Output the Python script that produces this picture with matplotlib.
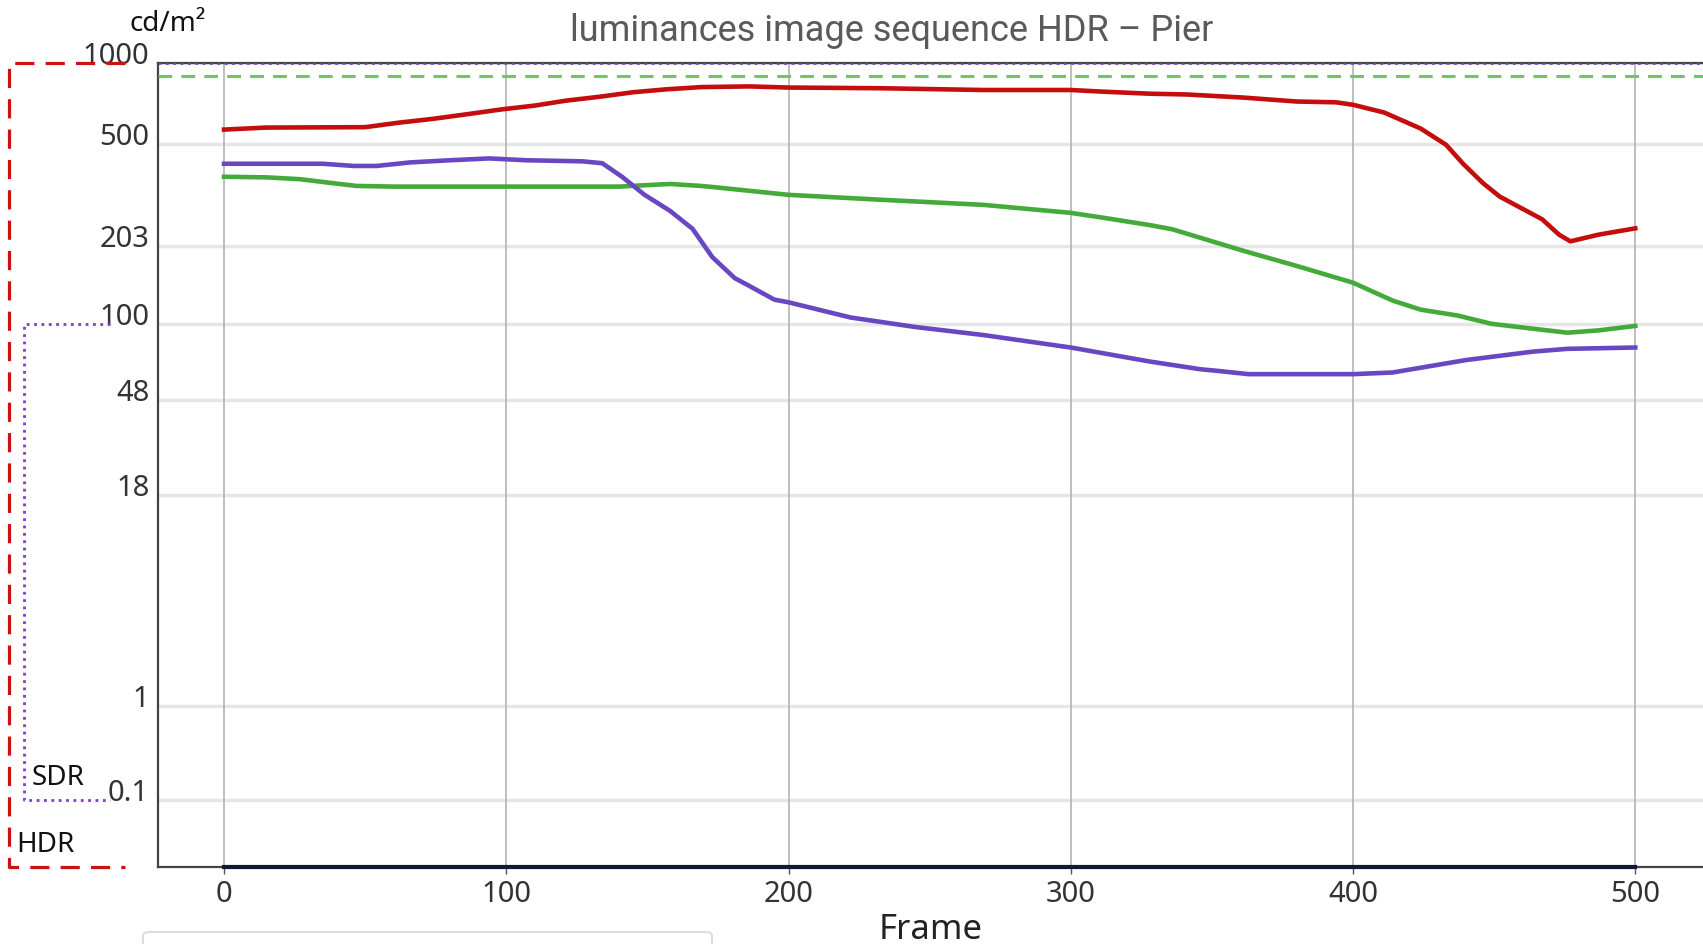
import numpy as np
import matplotlib
matplotlib.use("Agg")
import matplotlib.pyplot as plt
from matplotlib.transforms import blended_transform_factory
from matplotlib.patches import FancyBboxPatch

# ---------------- data (cd/m²) ----------------
red_frames = [0, 15, 50, 62, 74, 86, 98, 110, 121, 133, 145, 157, 169, 186, 200,
              233, 269, 300, 310, 328, 341, 361, 380, 394, 400, 411, 424, 433,
              439, 446, 452, 459, 467, 473, 477, 487, 500]
red_vals = [565, 575, 577, 600, 620, 645, 672, 695, 725, 750, 780, 800, 815, 820, 812,
            807, 795, 795, 785, 770, 765, 745, 720, 715, 700, 655, 570, 495,
            420, 355, 315, 287, 258, 225, 212, 225, 238]

green_frames = [0, 15, 27, 39, 47, 60, 100, 140, 151, 158, 169, 174, 200, 234, 269,
                300, 310, 328, 336, 361, 380, 400, 414, 424, 437, 449, 462, 476, 487, 500]
green_vals = [375, 373, 367, 354, 346, 344, 344, 344, 349, 352, 346, 342, 320, 306, 293,
              273, 263, 245, 236, 195, 170, 146, 124, 114, 108, 100, 96, 92, 94, 98]

purple_frames = [0, 35, 46, 54, 66, 80, 94, 107, 127, 134, 141, 149, 158, 166, 173,
                 181, 186, 195, 200, 222, 245, 269, 300, 328, 346, 352, 363, 369,
                 400, 414, 440, 464, 476, 500]
purple_vals = [420, 420, 412, 412, 425, 433, 440, 433, 429, 422, 375, 320, 278, 237, 184,
               152, 142, 125, 122, 106, 97, 90, 80, 70, 65, 64, 62, 62,
               62, 63, 71, 77, 79, 80]

min_frames = [0, 500]
min_vals = [0, 0]

ref_max = 1000      # purple dotted reference
ref_green = 900     # green dashed reference

ytick_vals = [0.1, 1, 18, 48, 100, 203, 500, 1000]
ytick_labels = ["0.1", "1", "18", "48", "100", "203", "500", "1000"]
xtick_vals = [0, 100, 200, 300, 400, 500]

# ---------------- PQ (SMPTE ST 2084) scale ----------------
m1 = 2610 / 16384
m2 = 2523 / 4096 * 128
c1 = 3424 / 4096
c2 = 2413 / 4096 * 32
c3 = 2392 / 4096 * 32


def pq_fwd(L):
    L = np.clip(np.asarray(L, dtype=float), 0, None)
    Y = (L / 10000.0) ** m1
    return ((c1 + c2 * Y) / (1 + c3 * Y)) ** m2


def pq_inv(N):
    N = np.clip(np.asarray(N, dtype=float), 1e-12, None)
    Np = N ** (1 / m2)
    num = np.clip(Np - c1, 0, None)
    den = c2 - c3 * Np
    return 10000.0 * (num / den) ** (1 / m1)


W, H = 1703, 945
fig = plt.figure(figsize=(W / 100, H / 100), dpi=100)
plt.rcParams['font.family'] = ['Noto Sans', 'DejaVu Sans']

ax = fig.add_axes([157.7 / W, 1 - 867.7 / H, 1 - 157.7 / W, (867.7 - 64.3) / H])
ax.set_yscale('function', functions=(pq_fwd, pq_inv))
ax.set_ylim(0, 1000)
ax.set_xlim(-23.5, 524)

RED = '#c40d0d'
GREEN = '#44aa3a'
PURPLE = '#6a47c2'

ax.axhline(ref_green, color='#6cc764', lw=2.2, ls=(0, (4.5, 3)), zorder=3)
ax.axhline(ref_max, color=PURPLE, lw=2, ls=':', zorder=4)

ax.plot(red_frames, red_vals, color=RED, lw=3.3, zorder=5)
ax.plot(green_frames, green_vals, color=GREEN, lw=3.3, zorder=5)
ax.plot(purple_frames, purple_vals, color=PURPLE, lw=3.3, zorder=5)
ax.plot(min_frames, min_vals, color='#15173a', lw=3, zorder=5, clip_on=False)

# grid
for v in ytick_vals:
    ax.axhline(v, color='#e6e6e6', lw=2.5, zorder=1)
for v in xtick_vals:
    ax.axvline(v, color='#b3b3b3', lw=1.2, zorder=1)

ax.set_yticks(ytick_vals)
ax.set_yticklabels(ytick_labels, fontsize=21, color='#333333', va='baseline')
ax.tick_params(axis='y', length=0, pad=6)
ax.set_xticks(xtick_vals)
ax.set_xticklabels([str(v) for v in xtick_vals], fontsize=21, color='#333333')
ax.tick_params(axis='x', length=5, width=1, color='#555555', pad=4)

for s in ['left', 'bottom', 'top']:
    ax.spines[s].set_color('#444444')
    ax.spines[s].set_linewidth(1.6)
ax.spines['right'].set_visible(False)

ax.set_xlabel("Frame", fontsize=25, color='#222222', labelpad=3)

# title and unit
fig.text(892 / W, 1 - 31 / H, "luminances image sequence HDR – Pier",
         ha='center', va='center', fontsize=26, color='#5a5a5a', family=['Roboto', 'DejaVu Sans'])
fig.text(168 / W, 1 - 24 / H, "cd/m²", ha='center', va='center', fontsize=20, color='#111111')

# HDR / SDR brackets
tr = blended_transform_factory(fig.transFigure, ax.transData)
xr0, xr1 = 9 / W, 125 / W
ax.plot([xr1, xr0, xr0, xr1], [1000, 1000, 0, 0], transform=tr, clip_on=False,
        color='#cc1111', lw=2.3, ls=(0, (6, 3.5)), zorder=6)
xp0, xp1 = 24 / W, 110 / W
ax.plot([xp1, xp0, xp0, xp1], [100, 100, 0.1, 0.1], transform=tr, clip_on=False,
        color='#7a3fc8', lw=2, ls=':', zorder=6)
fig.text(16 / W, 1 - 845 / H, "HDR", ha='left', va='center', fontsize=20, color='#111111')
fig.text(32 / W, 1 - 778 / H, "SDR", ha='left', va='center', fontsize=20, color='#111111')

# partially visible legend frame at the bottom
box = FancyBboxPatch((143 / W, -0.05), (712 - 143) / W, 0.05 + (945 - 933) / H,
                     boxstyle="round,pad=0,rounding_size=0.004", transform=fig.transFigure,
                     facecolor='white', edgecolor='#dddddd', lw=1.5, clip_on=False)
fig.patches.append(box)

fig.savefig("out.png", dpi=100)
